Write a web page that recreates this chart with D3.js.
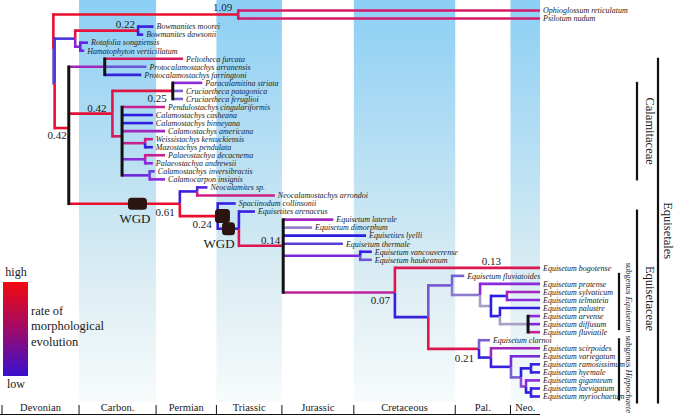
<!DOCTYPE html>
<html><head><meta charset="utf-8">
<script src="https://cdn.jsdelivr.net/npm/d3@7"></script>
<style>
body{margin:0;background:#fff}
svg{display:block}
</style>
</head><body>
<svg id="c" width="677" height="416" font-family="'Liberation Serif', 'Times New Roman', 'DejaVu Serif', serif"></svg>
<script>
// ---------- DATA ----------
// geological periods (Ma)
const periods      = ["Devonian","Carbon.","Permian","Triassic","Jurassic","Cretaceous","Pal.","Neo."];
const periodStart  = [419,359,299,252,201,145,66,23];
const periodEnd    = [359,299,252,201,145,66,23,0];
const periodShaded = [false,true,false,true,false,true,false,true];

// internal nodes: [id, parent, age (Ma), rate of morphological evolution (0 low – 1 high), uncertainty fade]
const internalNodes = [
  ["R",null,379,1,0],
  ["X","R",378,0.15,0.5],
  ["OP","R",235,1.0,0],
  ["BR","X",362,0.05,0.15],
  ["Bow","BR",313,0.95,0],
  ["RH","BR",358,0.35,0],
  ["E","X",367,1.0,0],
  ["Proto","E",339,0.45,0],
  ["Cal","E",333,0.95,0],
  ["ParaCru","Cal",286,0.9,0],
  ["CalPoly","Cal",325.5,0.8,0],
  ["WM","CalPoly",307.5,0.6,0],
  ["PP","CalPoly",307.5,0.35,0],
  ["IC","CalPoly",304,0.25,0],
  ["WGD","E",280.5,1.0,0],
  ["Neocal","WGD",267,0.05,0],
  ["A","WGD",251,1.0,0],
  ["B","A",234.5,0.05,0],
  ["C","B",200,0.85,0],
  ["VH","C",140,0.3,0],
  ["D","C",113,0.55,0],
  ["E2","D",87,0.05,0],
  ["F","E2",68.5,0.15,0.35],
  ["G","F",46.7,0.15,0.6],
  ["H","G",38.2,0.2,0.85],
  ["I","H",25.7,0.0,0],
  ["J","H",31.2,0.0,0],
  ["K","J",9.3,0.2,0.85],
  ["L","E2",47.5,0.85,0],
  ["M","L",38.2,0.05,0],
  ["N","M",22.6,0.05,0],
  ["O","N",14.8,0.15,0.4],
  ["P","O",7.0,0.0,0],
  ["Q","O",10.9,0.35,0.2],
  ["R2","Q",7.0,0.0,0]
];

// tips (top to bottom): [name, parent, age (Ma), rate, fade]
const tips = [
  ["Ophioglossum reticulatum","OP",0,0.75,0],
  ["Psilotum nudum","OP",0,0.75,0],
  ["Bowmanites moorei","Bow",301,0.05,0],
  ["Bowmanites dawsonii","Bow",309,0.05,0],
  ["Rotafolia songziensis","RH",352,0.2,0],
  ["Hamatophyton verticillatum","RH",355,0.25,0],
  ["Peltotheca furcata","Proto",278,0.8,0],
  ["Protocalamostachys arranensis","Proto",306.5,0.1,0.35],
  ["Protocalamostachys farringtoni","Proto",310.5,0.05,0],
  ["Paracalamitina striata","ParaCru",263,0.35,0],
  ["Cruciaetheca patagonica","ParaCru",278,0.1,0.45],
  ["Cruciaetheca feruglioi","ParaCru",278,0.1,0.45],
  ["Pendulostachys cingulariformis","CalPoly",292,0.6,0],
  ["Calamostachys casheana","CalPoly",301.5,0.02,0],
  ["Calamostachys binneyana","CalPoly",301.5,0.02,0],
  ["Calamostachys americana","CalPoly",292,0.45,0],
  ["Weissistachys kentuckiensis","WM",301.5,0.6,0],
  ["Mazostachys pendulata","WM",301.5,0.05,0],
  ["Palaeostachya decacnema","PP",292,0.6,0],
  ["Palaeostachya andrewsii","PP",301.5,0.35,0],
  ["Calamostachys inversibractis","IC",300,0.15,0.2],
  ["Calamocarpon insignis","IC",292,0.35,0],
  ["Neocalamites sp.","Neocal",259,0.15,0],
  ["Neocalamostachys arrondoi","Neocal",206.5,0.65,0],
  ["Spaciinodum collinsonii","A",237,0.05,0],
  ["Equisetites arenaceus","B",222,0.05,0],
  ["Equisetum laterale","C",161,0.45,0],
  ["Equisetum dimorphum","C",177.5,0.2,0.6],
  ["Equisetites lyelli","C",135.5,0.0,0],
  ["Equisetum thermale","C",153.5,0.08,0.2],
  ["Equisetum vancouverense","VH",131,0.05,0],
  ["Equisetum haukeanum","VH",131,0.1,0.35],
  ["Equisetum bogotense","D",0,0.85,0],
  ["Equisetum fluviatoides","F",59,0.1,0.45],
  ["Equisetum pratense","G",0,0.35,0],
  ["Equisetum sylvaticum","I",0,0.45,0],
  ["Equisetum telmateia","I",0,0.35,0],
  ["Equisetum palustre","J",0,0.0,0],
  ["Equisetum arvense","K",0,0.35,0],
  ["Equisetum diffusum","K",0,0.3,0],
  ["Equisetum fluviatile","K",0,0.6,0],
  ["Equisetum clarnoi","L",39,0.1,0.45],
  ["Equisetum scirpoides","M",0,0.45,0],
  ["Equisetum variegatum","N",0,0.3,0],
  ["Equisetum ramosissimum","P",0,0.05,0],
  ["Equisetum hyemale","P",0,0.05,0],
  ["Equisetum giganteum","Q",0,0.35,0],
  ["Equisetum laevigatum","R2",0,0.05,0],
  ["Equisetum myriochaetum","R2",0,0.05,0]
];

// branch rate values printed on the tree: [node, text]
const rateLabels = [["OP","1.09"],["Bow","0.22"],["Cal","0.42"],["E","0.42"],["ParaCru","0.25"],
  ["WGD","0.61"],["A","0.24"],["C","0.14"],["D","0.07"],["Equisetum bogotense","0.13"],["L","0.21"]];

// whole genome duplication events: [node, age (Ma)]
const wgdEvents = [["WGD",313.5],["A",247.3],["B",242.6]];

// clades: [name (plain part), italic part, first tip, last tip]
const clades = [
  ["Calamitaceae","","Paracalamitina striata","Calamocarpon insignis"],
  ["Equisetales","","Peltotheca furcata","Equisetum myriochaetum"],
  ["Equisetaceae","","Equisetites arenaceus","Equisetum myriochaetum"],
  ["subgenus ","Equisetum","Equisetum fluviatoides","Equisetum fluviatile"],
  ["subgenus ","Hippochaete","Equisetum clarnoi","Equisetum myriochaetum"]
];

// ---------- DRAWING ----------
const svg = d3.select("#c");
const x = d3.scaleLinear().domain([419,0]).range([2,540]);
const y = d3.scalePoint().domain(tips.map(t=>t[0])).range([10.5,396.5]);

const rateColor = d3.scaleLinear().domain([0,0.35,0.6,1])
  .range(["#2a1ee0","#8a2ad8","#c8208c","#e8102e"]).interpolate(d3.interpolateRgb);
const colorOf = d => d3.interpolateRgb(rateColor(d.rate), "#b4b4c4")(d.fade);

const defs = svg.append("defs");
const bandGrad = defs.append("linearGradient").attr("id","band").attr("x1",0).attr("y1",0).attr("x2",0).attr("y2",1);
[[0,"#8ccff5"],[0.35,"#b4def3"],[0.7,"#dcedf3"],[1,"#f7fbfc"]].forEach(s=>bandGrad.append("stop").attr("offset",s[0]).attr("stop-color",s[1]));
const legGrad = defs.append("linearGradient").attr("id","leg").attr("x1",0).attr("y1",0).attr("x2",0).attr("y2",1);
[[0,"#f20a10"],[0.45,"#a80a60"],[1,"#3810d0"]].forEach(s=>legGrad.append("stop").attr("offset",s[0]).attr("stop-color",s[1]));

const periodData = periods.map((p,i)=>({name:p,s:periodStart[i],e:periodEnd[i],sh:periodShaded[i]}));

// background bands
svg.append("g").selectAll("rect").data(periodData.filter(d=>d.sh)).join("rect")
  .attr("x",d=>x(d.s)).attr("width",d=>x(d.e)-x(d.s)).attr("y",0).attr("height",402)
  .attr("fill","url(#band)");

// axis
const ax = svg.append("g");
ax.append("line").attr("x1",x(419)-2).attr("x2",x(0)).attr("y1",414.5).attr("y2",414.5).attr("stroke","#111").attr("stroke-width",1.2);
ax.selectAll("line.t").data(periodStart).join("line").attr("class","t")
  .attr("x1",d=>x(d)).attr("x2",d=>x(d)).attr("y1",405).attr("y2",414.5).attr("stroke","#111").attr("stroke-width",1);
ax.selectAll("text").data(periodData).join("text")
  .attr("x",d=>(x(d.s)+x(d.e))/2).attr("y",411).attr("text-anchor","middle").attr("font-size",10.5)
  .attr("fill","#1a1a1a").text(d=>d.name);

// tree
const rows = internalNodes.map(r=>({id:r[0],parent:r[1],age:r[2],rate:r[3],fade:r[4],tip:false}))
  .concat(tips.map(r=>({id:r[0],parent:r[1],age:r[2],rate:r[3],fade:r[4],tip:true})));
const root = d3.stratify().id(d=>d.id).parentId(d=>d.parent)(rows);
root.eachAfter(n=>{
  n.px = x(n.data.age);
  n.py = n.children ? d3.mean(n.children,c=>c.py) : y(n.id);
});
const byId = new Map(root.descendants().map(n=>[n.id,n]));
const lw = 2.6;
const tree = svg.append("g").attr("fill","none");

// horizontal branches
tree.selectAll("line.h").data(root.descendants().filter(n=>n.parent)).join("line").attr("class","h")
  .attr("x1",n=>n.parent.px).attr("x2",n=>n.px).attr("y1",n=>n.py).attr("y2",n=>n.py)
  .attr("stroke",n=>colorOf(n.data)).attr("stroke-width",lw);

// vertical connectors
const inner = root.descendants().filter(n=>n.children);
inner.forEach(n=>{
  if(n.children.length>2){
    tree.append("line").attr("x1",n.px).attr("x2",n.px)
      .attr("y1",d3.min(n.children,c=>c.py)-lw/2).attr("y2",d3.max(n.children,c=>c.py)+lw/2)
      .attr("stroke","#111").attr("stroke-width",lw+0.4);
  } else {
    n.children.forEach(c=>{
      const s = c.py<n.py?-1:1;
      tree.append("line").attr("x1",n.px).attr("x2",n.px)
        .attr("y1",n.py).attr("y2",c.py+s*lw/2)
        .attr("stroke",colorOf(c.data)).attr("stroke-width",lw);
    });
  }
});

// tip labels
svg.append("g").selectAll("text").data(root.leaves()).join("text")
  .attr("x",n=>n.px+3).attr("y",n=>n.py+2.8).attr("font-size",8).attr("font-style","italic")
  .attr("fill","#222").text(n=>n.id);

// rate labels
const labelPlace = {OP:[-6,-3.5,"end"],Bow:[-3,-2.5,"end"],Cal:[-6,-2,"end"],E:[-2,10.5,"end"],ParaCru:[-6,11,"end"],
  WGD:[-5,12,"end"],A:[-6,11.5,"end"],C:[-3,-2,"end"],D:[-5,11.5,"end"],"Equisetum bogotense":[-39,-2.5,"end"],L:[-5,13.5,"end"]};
svg.append("g").selectAll("text").data(rateLabels).join("text")
  .attr("x",d=>byId.get(d[0]).px+labelPlace[d[0]][0])
  .attr("y",d=>byId.get(d[0]).py+labelPlace[d[0]][1])
  .attr("text-anchor",d=>labelPlace[d[0]][2]).attr("font-size",11).attr("fill","#1a1a1a").text(d=>d[1]);

// WGD markers
const wgdSize = [[19,12],[15,14],[13,13]];
const wg = svg.append("g");
wgdEvents.forEach((e,i)=>{
  const cx = x(e[1]), cy = byId.get(e[0]).py, [w,h]=wgdSize[i];
  wg.append("rect").attr("x",cx-w/2).attr("y",cy-h/2).attr("width",w).attr("height",h).attr("rx",3.5).attr("fill","#2a1510");
});
[[0,-2.5,19.5],[2,-9.5,19.5]].forEach(([i,dx,dy])=>{
  const e = wgdEvents[i];
  wg.append("text").attr("x",x(e[1])+dx).attr("y",byId.get(e[0]).py+dy).attr("text-anchor","middle")
    .attr("font-size",13).attr("fill","#1a1a1a").text("WGD");
});

// clade bars: [line x, text x, top extension, bottom extension, text centre shift, font size]
const cladePos = [[637,649,-1,1,0,12.5],[658,667,-1,7,0,12.5],[637,649,-2,7,-8,12.5],[619,628,-3,-2,-4,8.5],[619,628,-2,4,5,8.5]];
const cg = svg.append("g");
clades.forEach((c,i)=>{
  const [lx,tx,e1,e2,sh,fs] = cladePos[i];
  const y1 = y(c[2])+e1, y2 = y(c[3])+e2;
  cg.append("line").attr("x1",lx).attr("x2",lx).attr("y1",y1).attr("y2",y2).attr("stroke","#111").attr("stroke-width",2.2);
  const t = cg.append("text").attr("transform",`translate(${tx},${(y1+y2)/2+sh}) rotate(90)`)
    .attr("text-anchor","middle").attr("dominant-baseline","middle").attr("font-size",fs).attr("fill","#1a1a1a");
  t.append("tspan").text(c[0]);
  if(c[1]) t.append("tspan").attr("font-style","italic").text(c[1]);
});

// legend
const lg = svg.append("g");
lg.append("rect").attr("x",3).attr("y",282).attr("width",25).attr("height",94).attr("fill","url(#leg)");
lg.append("text").attr("x",16).attr("y",276).attr("text-anchor","middle").attr("font-size",12).attr("fill","#1a1a1a").text("high");
lg.append("text").attr("x",16).attr("y",388).attr("text-anchor","middle").attr("font-size",12).attr("fill","#1a1a1a").text("low");
["rate of","morphological","evolution"].forEach((s,i)=>
  lg.append("text").attr("x",31).attr("y",[315,330,346][i]).attr("font-size",12.5).attr("fill","#1a1a1a").text(s));
</script>
</body></html>
